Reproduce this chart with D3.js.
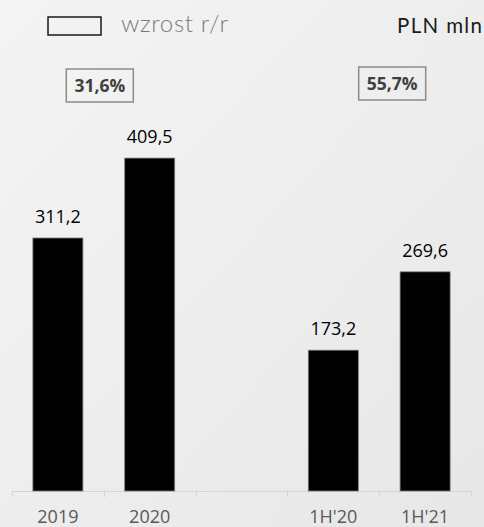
<!DOCTYPE html>
<html>
<head>
<meta charset="utf-8">
<script src="https://cdn.jsdelivr.net/npm/d3@7"></script>
<style>
  html, body { margin: 0; padding: 0; }
  body { width: 484px; height: 527px; overflow: hidden; }
</style>
</head>
<body>
<svg id="chart" width="484" height="527"></svg>
<script>
// Revenue, PLN mln
const categories = ["2019", "2020", "", "1H'20", "1H'21"];
const values = [311.2, 409.5, null, 173.2, 269.6];
const valueLabels = ["311,2", "409,5", "", "173,2", "269,6"];
// Year-on-year growth, shown between each pair of bars
const growthPairs = [["2019", "2020"], ["1H'20", "1H'21"]];
const growthLabels = ["31,6%", "55,7%"];
const legendLabel = "wzrost r/r";
const unitLabel = "PLN mln";

const W = 484, H = 527;
const svg = d3.select("#chart");

// soft grey backdrop
const defs = svg.append("defs");
const grad = defs.append("linearGradient").attr("id", "bg")
  .attr("x1", "0").attr("y1", "0").attr("x2", "1").attr("y2", "1");
grad.append("stop").attr("offset", "0%").attr("stop-color", "#f4f4f4");
grad.append("stop").attr("offset", "100%").attr("stop-color", "#e7e7e7");
svg.append("rect").attr("width", W).attr("height", H).attr("fill", "url(#bg)");

const baseY = 491;
const keys = categories.map((c, i) => c || "gap" + i);
const x = d3.scaleBand().domain(keys).range([12, 471])
  .paddingInner(0.455).paddingOuter(0.455 / 2);
const y = d3.scaleLinear().domain([0, 500]).range([baseY, baseY - 406.5]);
const step = x.step();
const edge = k => x(k) - (step - x.bandwidth()) / 2;

// category axis with ticks on band boundaries
const axis = svg.append("g");
axis.append("line")
  .attr("x1", 12).attr("x2", 471).attr("y1", baseY + 0.5).attr("y2", baseY + 0.5)
  .attr("stroke", "#d4d4d4").attr("stroke-width", 1);
const bounds = keys.map(edge).concat([edge(keys[keys.length - 1]) + step]);
axis.selectAll("line.tick").data(bounds).join("line").attr("class", "tick")
  .attr("x1", d => Math.round(d) + 0.5).attr("x2", d => Math.round(d) + 0.5)
  .attr("y1", baseY).attr("y2", baseY + 6)
  .attr("stroke", "#d4d4d4");
axis.selectAll("text").data(categories).join("text")
  .attr("x", (d, i) => x(keys[i]) + x.bandwidth() / 2)
  .attr("y", 523)
  .attr("text-anchor", "middle")
  .attr("font-family", "'Open Sans', sans-serif")
  .attr("font-size", 18)
  .attr("fill", "#595959")
  .text(d => d);

// bars
const rows = keys.map((k, i) => ({ k, v: values[i], label: valueLabels[i] }))
  .filter(d => d.v != null);
svg.append("g").selectAll("rect").data(rows).join("rect")
  .attr("x", d => x(d.k))
  .attr("y", d => y(d.v))
  .attr("width", x.bandwidth())
  .attr("height", d => y(0) - y(d.v))
  .attr("fill", "#000")
  .attr("stroke", "#7f7f7f")
  .attr("stroke-width", 0.8);

// value labels
svg.append("g").selectAll("text").data(rows).join("text")
  .attr("x", d => x(d.k) + x.bandwidth() / 2)
  .attr("y", d => y(d.v) - 15)
  .attr("text-anchor", "middle")
  .attr("font-family", "'Open Sans', sans-serif")
  .attr("font-size", 18)
  .attr("fill", "#000")
  .text(d => d.label);

// growth boxes
const boxDx = [-4, 13];
const boxY = [69, 67];
const boxW = 67, boxH = 33;
growthPairs.forEach((p, i) => {
  const gapMid = (x(p[0]) + x.bandwidth() + x(p[1])) / 2 + boxDx[i];
  const g = svg.append("g");
  g.append("rect")
    .attr("x", gapMid - boxW / 2).attr("y", boxY[i])
    .attr("width", boxW).attr("height", boxH)
    .attr("fill", "none").attr("stroke", "#8c8c8c").attr("stroke-width", 1.5);
  g.append("text")
    .attr("x", gapMid).attr("y", boxY[i] + boxH / 2 + 6.5)
    .attr("text-anchor", "middle")
    .attr("font-family", "'Open Sans', sans-serif")
    .attr("font-weight", 700)
    .attr("font-size", 17.5)
    .attr("fill", "#404040")
    .text(growthLabels[i]);
});

// legend
svg.append("rect")
  .attr("x", 48).attr("y", 17).attr("width", 53).attr("height", 18)
  .attr("fill", "none").attr("stroke", "#1a1a1a").attr("stroke-width", 1.5);
svg.append("text")
  .attr("x", 121).attr("y", 32)
  .attr("font-family", "Lato, sans-serif")
  .attr("font-weight", 300)
  .attr("font-size", 24)
  .attr("textLength", 107)
  .attr("lengthAdjust", "spacing")
  .attr("fill", "#7a7a7a")
  .text(legendLabel);

// unit
svg.append("text")
  .attr("x", 397).attr("y", 33)
  .attr("font-family", "Lato, sans-serif")
  .attr("font-size", 20.5)
  .attr("textLength", 85)
  .attr("lengthAdjust", "spacing")
  .attr("fill", "#1a1a1a")
  .text(unitLabel);
</script>
</body>
</html>
